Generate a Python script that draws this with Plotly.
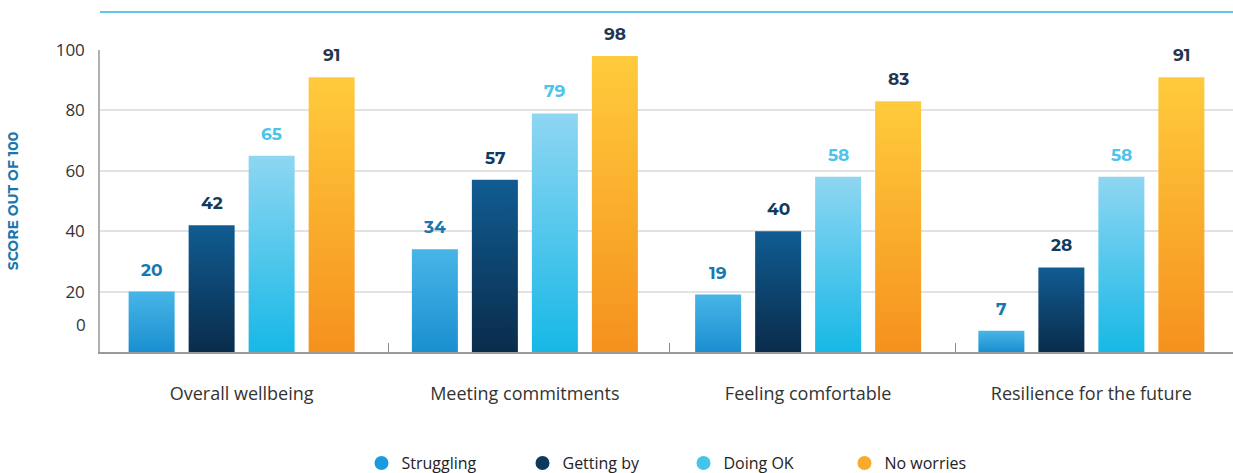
import plotly.graph_objects as go

categories = ["Overall wellbeing", "Meeting commitments", "Feeling comfortable", "Resilience for the future"]
series = ["Struggling", "Getting by", "Doing OK", "No worries"]
struggling = [20, 34, 19, 7]
getting_by = [42, 57, 40, 28]
doing_ok = [65, 79, 58, 58]
no_worries = [91, 98, 83, 91]
y_ticks = [20, 40, 60, 80, 100]

values = [struggling, getting_by, doing_ok, no_worries]
# gradient bottom -> top, label colour, legend colour
grad = [("#1a8fd0", "#48b5e7"), ("#0a2c4b", "#105c92"), ("#17b8e6", "#8fd6f2"), ("#f5911e", "#ffcb3c")]
label_col = ["#1a77ad", "#0f3b5f", "#4cc4ec", "#1f3652"]
legend_col = ["#1a9be0", "#0b3a5e", "#45c4ea", "#f9aa2b"]

pitch = 60 / 283.25
half_w = 23 / 283.25

fig = go.Figure()
annotations = []
for j, name in enumerate(series):
    for i, v in enumerate(values[j]):
        xc = i + (j - 1.5) * pitch
        fig.add_trace(go.Scatter(
            x=[xc - half_w, xc + half_w, xc + half_w, xc - half_w, xc - half_w],
            y=[0, 0, v, v, 0], mode="lines", line=dict(width=0), fill="toself",
            fillgradient=dict(type="vertical", colorscale=[[0, grad[j][0]], [1, grad[j][1]]]),
            showlegend=False, hoverinfo="skip"))
        annotations.append(dict(x=xc, y=v, text="<b>%d</b>" % v, showarrow=False, yanchor="bottom", yshift=10,
                                font=dict(family="Montserrat, Lato, sans-serif", size=17, color=label_col[j])))
    fig.add_trace(go.Scatter(x=[None], y=[None], mode="markers", name=name,
                             marker=dict(symbol="circle", size=14, color=legend_col[j])))

annotations.append(dict(x=-0.5, y=9, xref="x", yref="y", text="0", showarrow=False, xanchor="right", xshift=-12,
                        font=dict(family="Open Sans, sans-serif", size=17, color="#333")))

fig.add_shape(type="line", xref="paper", yref="paper", x0=0, x1=1, y0=1.126, y1=1.126,
              line=dict(color="#2bb5e6", width=1.5))

fig.update_layout(
    width=1233, height=473, margin=dict(l=100, r=0, t=50, b=121),
    plot_bgcolor="white", paper_bgcolor="white",
    font=dict(family="Open Sans, sans-serif", color="#333"),
    annotations=annotations,
    legend=dict(orientation="h", x=0.515, xanchor="center", yref="container", y=0.021, yanchor="middle",
                font=dict(size=16, color="#222"), itemwidth=30, tracegroupgap=0,
                entrywidthmode="pixels", entrywidth=116),
    xaxis=dict(range=[-0.5, 3.5], showgrid=False, zeroline=False, showline=True, linecolor="#9a9a9a", linewidth=1.5,
               tickvals=[0, 1, 2, 3], ticktext=categories, ticks="", ticklabelstandoff=25, automargin=False,
               tickfont=dict(size=18, color="#333"),
               minor=dict(tickvals=[0.52, 1.51, 2.52], ticks="inside", ticklen=9, tickcolor="#888", tickwidth=1),
               fixedrange=True),
    yaxis=dict(range=[0, 100], tickvals=y_ticks, ticks="", ticklabelstandoff=10, showgrid=True, gridcolor="#e2e2e2",
               gridwidth=1.5, zeroline=False, showline=True, linecolor="#b0b0b0", linewidth=1.5, automargin=False,
               tickfont=dict(size=17, color="#333"), fixedrange=True,
               title=dict(text="<b>SCORE OUT OF 100</b>", standoff=34,
                          font=dict(family="Montserrat, Lato, sans-serif", size=14, color="#1a77ad"))),
)

fig.write_html("out.html", config={"displayModeBar": False}, post_script="document.body.style.margin='0';")
